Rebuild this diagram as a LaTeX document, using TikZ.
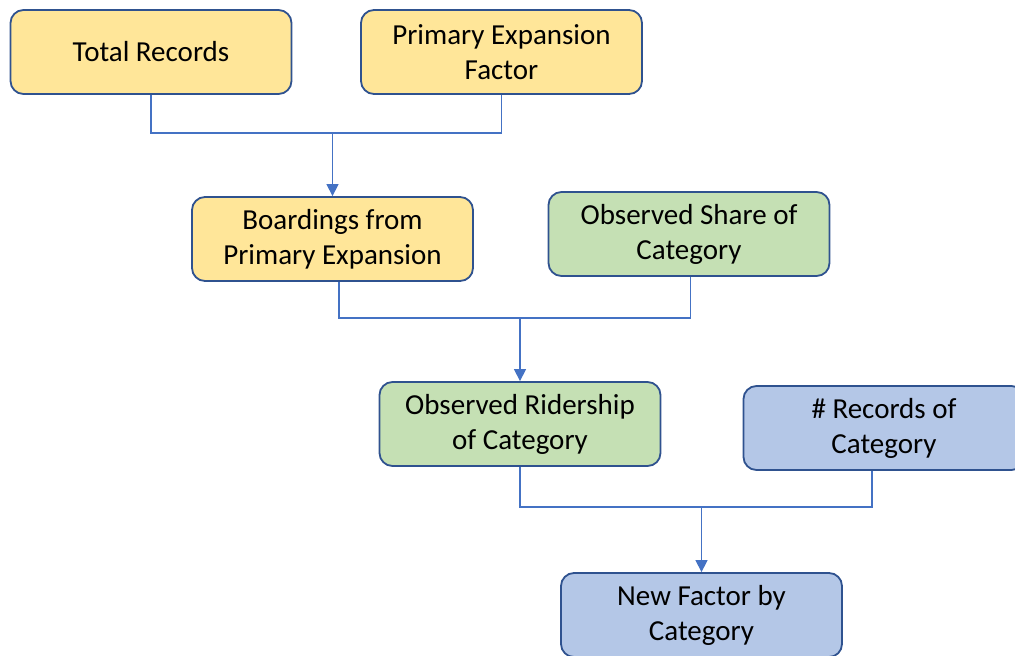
\documentclass[tikz,border=0pt]{standalone}
\usepackage{fontspec}
\setmainfont{Carlito}
\usetikzlibrary{arrows.meta}
\definecolor{boxline}{HTML}{2F528F}
\definecolor{yel}{HTML}{FFE699}
\definecolor{grn}{HTML}{C5E0B4}
\definecolor{blu}{HTML}{B4C7E7}
\definecolor{conn}{HTML}{4472C4}
\tikzset{
  box/.style={draw=boxline, line width=1.8pt, rounded corners=13pt,
    minimum width=281pt, minimum height=84pt, align=center, inner sep=0pt,
    font=\fontsize{29}{35}\selectfont, text=black},
  ybox/.style={box, fill=yel},
  gbox/.style={box, fill=grn},
  bbox/.style={box, fill=blu},
  link/.style={draw=conn, line width=1.3pt},
  arr/.style={link, -{Triangle[width=12pt,length=12pt]}}
}
\begin{document}
\begin{tikzpicture}[x=1pt,y=-1pt]
\useasboundingbox (0,0) rectangle (1015,656);
\clip (0,0) rectangle (1015,656);
\node[ybox] (tr) at (151,52) {Total Records};
\node[ybox] (pef) at (501.5,52) {Primary Expansion\\Factor};
\node[ybox] (be) at (332.5,239) {Boardings from\\Primary Expansion};
\node[gbox] (osc) at (689,234) {Observed Share of\\Category};
\node[gbox] (orc) at (520,424) {Observed Ridership\\of Category};
\node[bbox] (rc) at (884,428) {\# Records of\\Category};
\node[bbox] (nfc) at (701.5,615) {New Factor by\\Category};
\coordinate (j1) at (332.5,133);
\coordinate (j2) at (520,318);
\coordinate (j3) at (701.5,507);
\draw[link] (tr.south) |- (j1);
\draw[link] (pef.south) |- (j1);
\draw[arr] (j1) -- (be.north);
\draw[link] ([xshift=6.5pt]be.south) |- (j2);
\draw[link] ([xshift=1.5pt]osc.south) |- (j2);
\draw[arr] (j2) -- (orc.north);
\draw[link] (orc.south) |- (j3);
\draw[link] ([xshift=-12pt]rc.south) |- (j3);
\draw[arr] (j3) -- (nfc.north);
\end{tikzpicture}
\end{document}
